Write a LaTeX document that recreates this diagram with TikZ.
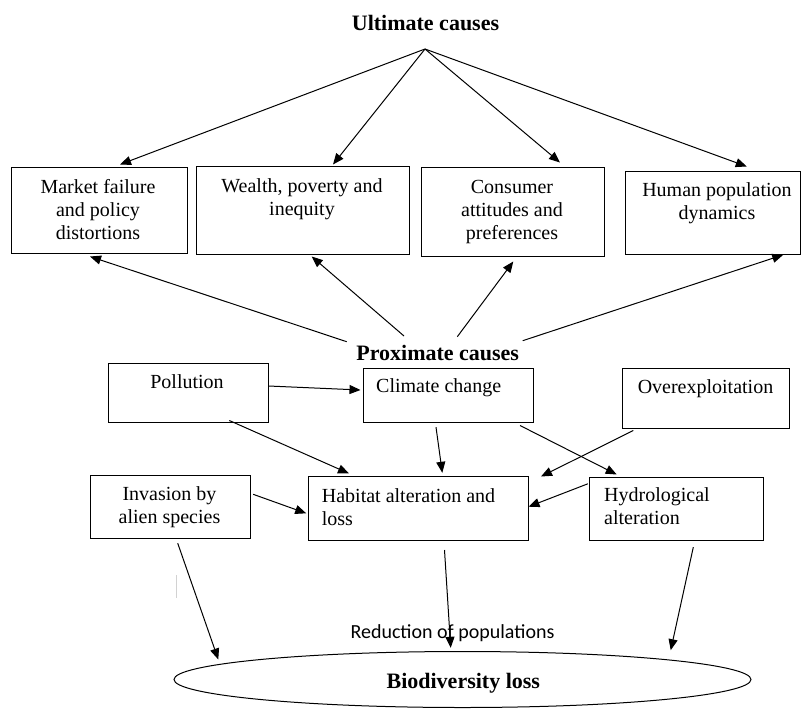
\documentclass[tikz,border=0pt]{standalone}
\usepackage{fontspec}
\setmainfont{Liberation Serif}
\newfontfamily\calib{Carlito}
\usetikzlibrary{arrows.meta,shapes.geometric}
\begin{document}
\begin{tikzpicture}[x=1pt,y=-1pt,
  boxnode/.style={draw,rectangle,line width=1pt,inner sep=0pt},
  txtc/.style={inner sep=0pt,align=center,anchor=north,font=\fontsize{20}{23}\selectfont},
  txtl/.style={inner sep=0pt,align=left,anchor=north west,font=\fontsize{20}{23}\selectfont},
  ttl/.style={inner sep=0pt,anchor=base,font=\fontsize{22}{26}\selectfont\bfseries},
  arr/.style={line width=1pt,-{Triangle[length=11pt,width=9pt]}}]
\useasboundingbox (0,0) rectangle (802,709);

% titles
\node[ttl] (ult) at (425.5,30.5) {Ultimate causes};
\coordinate (apex) at (425,49);
\node[ttl] (pc) at (437.7,360.7) {Proximate causes};

% ultimate cause boxes
\node[boxnode,minimum width=176pt,minimum height=86pt] (mf) at (99,210) {};
\node[txtc] (mft) at (98,177) {\strut Market failure\\and policy\\distortions};
\node[boxnode,minimum width=213pt,minimum height=88pt] (wp) at (302.5,210) {};
\node[txtc] (wpt) at (302,176) {\strut Wealth, poverty and\\inequity};
\node[boxnode,minimum width=183pt,minimum height=89pt] (ca) at (512.5,211.5) {};
\node[txtc] (cat) at (512,177) {\strut Consumer\\attitudes and\\preferences};
\node[boxnode,minimum width=175.5pt,minimum height=83pt] (hp) at (712.75,212.5) {};
\node[txtc] (hpt) at (717,180) {\strut Human population\\dynamics};

% proximate boxes
\node[boxnode,minimum width=160pt,minimum height=59pt] (po) at (188,392.5) {};
\node[txtc] (pot) at (187,372) {\strut Pollution};
\node[boxnode,minimum width=170pt,minimum height=54pt] (cc) at (448,395) {};
\node[txtl] (cct) at (376,376) {\strut Climate change};
\node[boxnode,minimum width=167pt,minimum height=60pt] (ov) at (705.5,398) {};
\node[txtc] (ovt) at (705.5,377) {\strut Overexploitation};
\node[boxnode,minimum width=160pt,minimum height=63pt] (in) at (170,506.5) {};
\node[txtc] (int) at (169.5,484) {\strut Invasion by\\alien species};
\node[boxnode,minimum width=220pt,minimum height=64pt] (ha) at (418,508) {};
\node[txtl] (hat) at (321.7,486) {\strut Habitat alteration and\\loss};
\node[boxnode,minimum width=174pt,minimum height=63pt] (hy) at (676,508.5) {};
\node[txtl] (hyt) at (604,485) {\strut Hydrological\\alteration};

% ellipse
\node[draw,ellipse,line width=1pt,inner sep=0pt,minimum width=577pt,minimum height=56pt] (bl) at (462.5,679.5) {};
\node[ttl] (blt) at (463.3,688) {Biodiversity loss};
\node[inner sep=0pt,anchor=base,font=\calib\fontsize{20}{24}\selectfont] (red) at (452.5,638.2) {Reduction of populations};

% stray mark
\draw[gray!35,line width=1pt] (176,575) -- (176,598);

% ultimate arrows
\draw[arr] (apex) -- ([xshift=21pt,yshift=2pt]mf.north);
\draw[arr] (apex) -- ([xshift=30.5pt,yshift=1pt]wp.north);
\draw[arr] (apex) -- ([xshift=47.5pt,yshift=4pt]ca.north);
\draw[arr] (apex) -- ([xshift=34pt,yshift=4pt]hp.north);

% proximate to ultimate
\draw[arr] ([xshift=-91pt,yshift=19pt]pc.base) -- ([xshift=-9pt,yshift=-3pt]mf.south);
\draw[arr] ([xshift=-33.7pt,yshift=24.7pt]pc.base) -- ([xshift=9.2pt,yshift=-2pt]wp.south);
\draw[arr] ([xshift=19.6pt,yshift=24pt]pc.base) -- ([xshift=0.8pt,yshift=-5pt]ca.south);
\draw[arr] ([xshift=85pt,yshift=20pt]pc.base) -- ([xshift=70.5pt,yshift=-0.3pt]hp.south);

% middle arrows
\draw[arr] ([yshift=6.5pt]po.east) -- ([xshift=-2pt,yshift=5pt]cc.west);
\draw[arr] ([xshift=41.3pt,yshift=2pt]po.south) -- ([xshift=-69pt,yshift=2pt]ha.north);
\draw[arr] ([xshift=-12pt,yshift=-4.7pt]cc.south) -- ([xshift=24.3pt,yshift=2.7pt]ha.north);
\draw[arr] ([xshift=72pt,yshift=-3pt]cc.south) -- ([xshift=-59.3pt,yshift=2pt]hy.north);
\draw[arr] ([xshift=-72.2pt,yshift=-2pt]ov.south) -- ([xshift=12.5pt,yshift=-1pt]ha.north east);
\draw[arr] ([xshift=-0.7pt,yshift=-7.3pt]hy.north west) -- ([yshift=1.3pt]ha.east);
\draw[arr] ([xshift=2.7pt,yshift=12.2pt]in.east) -- ([xshift=-1.3pt,yshift=-5.3pt]ha.west);

% bottom arrows
\draw[arr] ([xshift=7.7pt,yshift=-4.7pt]in.south) -- ([xshift=-244.2pt,yshift=-8.5pt]bl.north);
\draw[arr] ([xshift=26.5pt,yshift=-9.5pt]ha.south) -- ([xshift=-11.8pt,yshift=3.2pt]bl.north);
\draw[arr] ([xshift=17.3pt,yshift=-6.7pt]hy.south) -- ([xshift=208.2pt,yshift=0.8pt]bl.north);
\end{tikzpicture}
\end{document}
